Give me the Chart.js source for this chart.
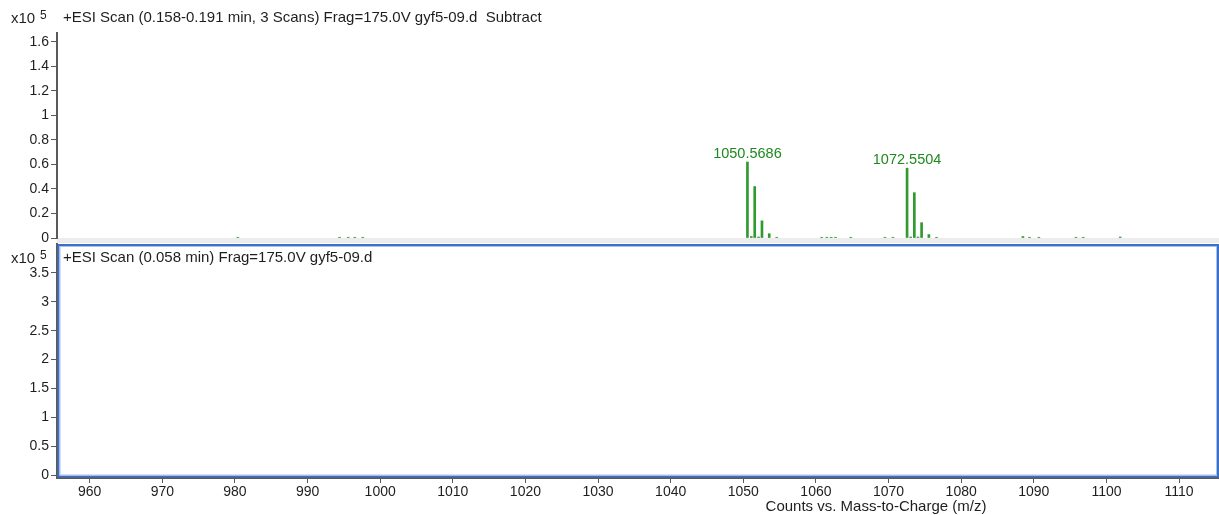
<!DOCTYPE html>
<html>
<head>
<meta charset="utf-8">
<script src="https://cdn.jsdelivr.net/npm/chart.js@4"></script>
<style>
  html, body { margin: 0; padding: 0; background: #ffffff; }
  #wrap { position: relative; width: 1219px; height: 515px; overflow: hidden; }
  canvas { position: absolute; left: 0; }
  #top { top: 0; }
  #bottom { top: 243px; }
</style>
</head>
<body>
<div id="wrap">
  <canvas id="top" width="1219" height="243"></canvas>
  <canvas id="bottom" width="1219" height="272"></canvas>
</div>
<script>
// Upper spectrum: m/z positions and intensities (x10^5 counts)
const topMz = [
  980.4, 994.4, 995.6, 996.5, 997.6,
  1050.5686, 1051.1, 1051.57, 1052.1, 1052.57, 1053.57, 1054.6,
  1060.8, 1061.5, 1062.1, 1062.7, 1064.8, 1069.5, 1070.6,
  1072.5504, 1073.05, 1073.55, 1074.05, 1074.55, 1075.55, 1076.6,
  1088.5, 1089.4, 1090.7, 1095.8, 1096.8, 1101.9
];
const topInt = [
  0.006, 0.006, 0.006, 0.006, 0.006,
  0.62, 0.012, 0.42, 0.008, 0.14, 0.035, 0.006,
  0.006, 0.006, 0.006, 0.006, 0.006, 0.006, 0.006,
  0.57, 0.008, 0.37, 0.008, 0.125, 0.028, 0.006,
  0.012, 0.006, 0.006, 0.006, 0.006, 0.008
];
// Annotated peaks (m/z values printed above the bars)
const labeledMz = [1050.5686, 1072.5504];
const labeledText = ['1050.5686', '1072.5504'];

// Lower spectrum (no signal in this scan)
const bottomMz = [];
const bottomInt = [];

// Axis ticks
const xTicks = [960, 970, 980, 990, 1000, 1010, 1020, 1030, 1040, 1050, 1060, 1070, 1080, 1090, 1100, 1110];
const topYTicks = [0, 0.2, 0.4, 0.6, 0.8, 1, 1.2, 1.4, 1.6];
const bottomYTicks = [0, 0.5, 1, 1.5, 2, 2.5, 3, 3.5];

const topTitle = '+ESI Scan (0.158-0.191 min, 3 Scans) Frag=175.0V gyf5-09.d  Subtract';
const bottomTitle = '+ESI Scan (0.058 min) Frag=175.0V gyf5-09.d';
const xAxisTitle = 'Counts vs. Mass-to-Charge (m/z)';

const FONT = "'Liberation Sans', Arial, sans-serif";
const X_MIN = 955.5, X_MAX = 1115.5;
const PEAK_COLOR = '#2f9a2f';
const LABEL_COLOR = '#1d8a1d';
const AXIS_COLOR = '#5a5a5a';
const TEXT_COLOR = '#1e1e1e';

function drawMultiplier(ctx, y) {
  ctx.save();
  ctx.fillStyle = TEXT_COLOR;
  ctx.textBaseline = 'middle';
  ctx.textAlign = 'left';
  ctx.font = '15px ' + FONT;
  ctx.fillText('x10', 11, y + 1);
  ctx.font = '12px ' + FONT;
  ctx.fillText('5', 40, y - 2);
  ctx.restore();
}

// keep tick labels from pushing the plot area inward
function noLabelPadding(scale) {
  scale.paddingTop = 0;
  scale.paddingBottom = 0;
  scale.paddingLeft = 0;
  scale.paddingRight = 0;
}

const topDecor = {
  id: 'topDecor',
  beforeDraw(chart) {
    const { ctx, chartArea: a } = chart;
    ctx.save();
    ctx.fillStyle = '#ffffff';
    ctx.fillRect(0, 0, chart.width, chart.height);
    ctx.fillStyle = '#ececec';
    ctx.fillRect(a.left, a.bottom, a.right - a.left, chart.height - a.bottom);
    ctx.restore();
  },
  afterDraw(chart) {
    const { ctx } = chart;
    const xs = chart.scales.x, ys = chart.scales.y;
    drawMultiplier(ctx, 18);
    ctx.save();
    ctx.fillStyle = TEXT_COLOR;
    ctx.font = '15px ' + FONT;
    ctx.textBaseline = 'middle';
    ctx.textAlign = 'left';
    ctx.fillText(topTitle, 63, 18);
    // peak annotations
    ctx.fillStyle = LABEL_COLOR;
    ctx.font = '14.5px ' + FONT;
    ctx.textAlign = 'center';
    ctx.textBaseline = 'alphabetic';
    labeledMz.forEach((mz, i) => {
      const idx = topMz.indexOf(mz);
      const px = xs.getPixelForValue(mz);
      const py = ys.getPixelForValue(topInt[idx]);
      ctx.fillText(labeledText[i], px, py - 4);
    });
    ctx.restore();
  }
};

const bottomDecor = {
  id: 'bottomDecor',
  beforeDraw(chart) {
    const { ctx } = chart;
    ctx.save();
    ctx.fillStyle = '#ffffff';
    ctx.fillRect(0, 0, chart.width, chart.height);
    ctx.restore();
  },
  afterDraw(chart) {
    const { ctx, chartArea: a } = chart;
    ctx.save();
    // panel frame
    ctx.strokeStyle = '#3c70c8';
    ctx.lineWidth = 2;
    ctx.strokeRect(a.left + 1.5, a.top + 1, a.right - a.left - 2.5, a.bottom - a.top - 2.5);
    ctx.strokeStyle = '#a8c2ea';
    ctx.lineWidth = 1;
    ctx.strokeRect(a.left + 3, a.top + 2.5, a.right - a.left - 5.5, a.bottom - a.top - 5.5);
    ctx.restore();
    drawMultiplier(ctx, 15);
    ctx.save();
    ctx.fillStyle = TEXT_COLOR;
    ctx.font = '15px ' + FONT;
    ctx.textBaseline = 'middle';
    ctx.textAlign = 'left';
    ctx.fillText(bottomTitle, 63, 15);
    ctx.font = '15px ' + FONT;
    ctx.textAlign = 'center';
    ctx.fillText(xAxisTitle, 876, 264);
    ctx.restore();
  }
};

function yAxis(min, max, ticks) {
  return {
    type: 'linear',
    min: min,
    max: max,
    afterBuildTicks(scale) { scale.ticks = ticks.map(v => ({ value: v })); },
    afterFit(scale) { scale.width = 57; noLabelPadding(scale); },
    ticks: {
      color: TEXT_COLOR,
      font: { family: FONT, size: 14 },
      padding: 2,
      callback: v => String(v)
    },
    grid: { drawOnChartArea: false, drawTicks: true, tickLength: 6, color: AXIS_COLOR, lineWidth: 1 },
    border: { display: true, color: AXIS_COLOR, width: 2 }
  };
}

new Chart(document.getElementById('top'), {
  type: 'bar',
  data: {
    datasets: [{
      data: topMz.map((x, i) => ({ x: x, y: topInt[i] })),
      backgroundColor: PEAK_COLOR,
      borderWidth: 0,
      barThickness: 2
    }]
  },
  options: {
    responsive: false,
    animation: false,
    devicePixelRatio: 1,
    layout: { padding: { top: 33, bottom: 5, left: 0, right: 0 } },
    plugins: { legend: { display: false }, tooltip: { enabled: false } },
    scales: {
      x: { type: 'linear', min: X_MIN, max: X_MAX, offset: false, display: false },
      y: yAxis(0, 1.673, topYTicks)
    }
  },
  plugins: [topDecor]
});

new Chart(document.getElementById('bottom'), {
  type: 'bar',
  data: {
    datasets: [{
      data: bottomMz.map((x, i) => ({ x: x, y: bottomInt[i] })),
      backgroundColor: PEAK_COLOR,
      borderWidth: 0,
      barThickness: 2
    }]
  },
  options: {
    responsive: false,
    animation: false,
    devicePixelRatio: 1,
    layout: { padding: { top: 1, bottom: 0, left: 0, right: 0 } },
    plugins: { legend: { display: false }, tooltip: { enabled: false } },
    scales: {
      x: {
        type: 'linear',
        min: X_MIN,
        max: X_MAX,
        offset: false,
        afterBuildTicks(scale) { scale.ticks = xTicks.map(v => ({ value: v })); },
        afterFit(scale) { scale.height = 37; noLabelPadding(scale); },
        ticks: {
          color: TEXT_COLOR,
          font: { family: FONT, size: 14 },
          padding: 1,
          maxRotation: 0,
          autoSkip: false,
          callback: v => String(v)
        },
        grid: { offset: false, drawOnChartArea: false, drawTicks: true, tickLength: 5, color: AXIS_COLOR, lineWidth: 1 },
        border: { display: true, color: AXIS_COLOR, width: 2 }
      },
      y: yAxis(-0.05, 4.0, bottomYTicks)
    }
  },
  plugins: [bottomDecor]
});
</script>
</body>
</html>
